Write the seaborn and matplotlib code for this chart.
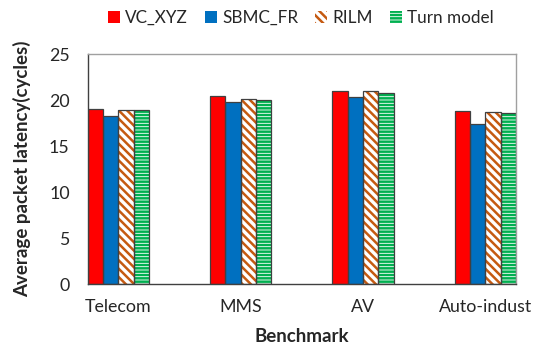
import pandas as pd
import matplotlib
matplotlib.use('Agg')
import matplotlib.pyplot as plt
import seaborn as sns
from matplotlib.patches import Rectangle, Patch

benchmarks = ['Telecom', 'MMS', 'AV', 'Auto-indust']
methods = ['VC_XYZ', 'SBMC_FR', 'RILM', 'Turn model']
vc_xyz = [19.0, 20.4, 21.0, 18.8]
sbmc_fr = [18.3, 19.8, 20.3, 17.4]
rilm = [18.9, 20.1, 21.0, 18.7]
turn_model = [18.9, 20.0, 20.8, 18.6]

rows = []
for m, vals in zip(methods, [vc_xyz, sbmc_fr, rilm, turn_model]):
    for b, v in zip(benchmarks, vals):
        rows.append({'Benchmark': b, 'Method': m, 'Latency': v})
data = pd.DataFrame(rows)

sns.set_style('white')
plt.rcParams['font.family'] = ['Lato', 'DejaVu Sans']
plt.rcParams['hatch.linewidth'] = 1.8

fills = ['#FF0000', '#0070C0', 'white', 'white']
hatch_cols = ['#FF0000', '#0070C0', '#C55A11', '#00B050']
hatches = ['', '', '\\\\\\\\', '-----']

fig = plt.figure(figsize=(5.42, 3.49), dpi=100)
ax = fig.add_axes([0.162, 0.186, 0.79, 0.659])
sns.barplot(data=data, x='Benchmark', y='Latency', hue='Method', order=benchmarks,
            hue_order=methods, width=0.5, ax=ax, legend=False, saturation=1)

for i, cont in enumerate(ax.containers):
    for p in cont:
        p.set_facecolor(fills[i])
        p.set_edgecolor(hatch_cols[i])
        p.set_hatch(hatches[i])
        p.set_linewidth(0)
        ax.add_patch(Rectangle(p.get_xy(), p.get_width(), p.get_height(), fill=False,
                               edgecolor='#404040', linewidth=0.9, zorder=p.get_zorder() + 0.1))

ax.set_xlim(-0.25, 3.25)
ax.set_ylim(0, 25)
ax.set_yticks([0, 5, 10, 15, 20, 25])
ax.tick_params(axis='both', labelsize=12.8, length=0, colors='#262626')
ax.tick_params(axis='x', pad=11)
ax.tick_params(axis='y', pad=13)
ax.set_xlabel('Benchmark', fontsize=13.5, fontweight='bold', labelpad=9)
ax.set_ylabel('Average packet latency(cycles)', fontsize=13.5, fontweight='bold', labelpad=13)
for s in ['top', 'right']:
    ax.spines[s].set_color('#A0A0A0')
for s in ['left', 'bottom']:
    ax.spines[s].set_color('#404040')
for s in ax.spines.values():
    s.set_linewidth(1)

handles = [Patch(facecolor=fills[i], edgecolor=hatch_cols[i], hatch=hatches[i], linewidth=0)
           for i in range(4)]
fig.legend(handles, methods, loc='upper center', bbox_to_anchor=(0.555, 1.015), ncol=4,
           frameon=False, fontsize=12.3, handlelength=0.7, handleheight=0.7,
           handletextpad=0.3, columnspacing=1.0)

fig.savefig('out.png', dpi=100)
